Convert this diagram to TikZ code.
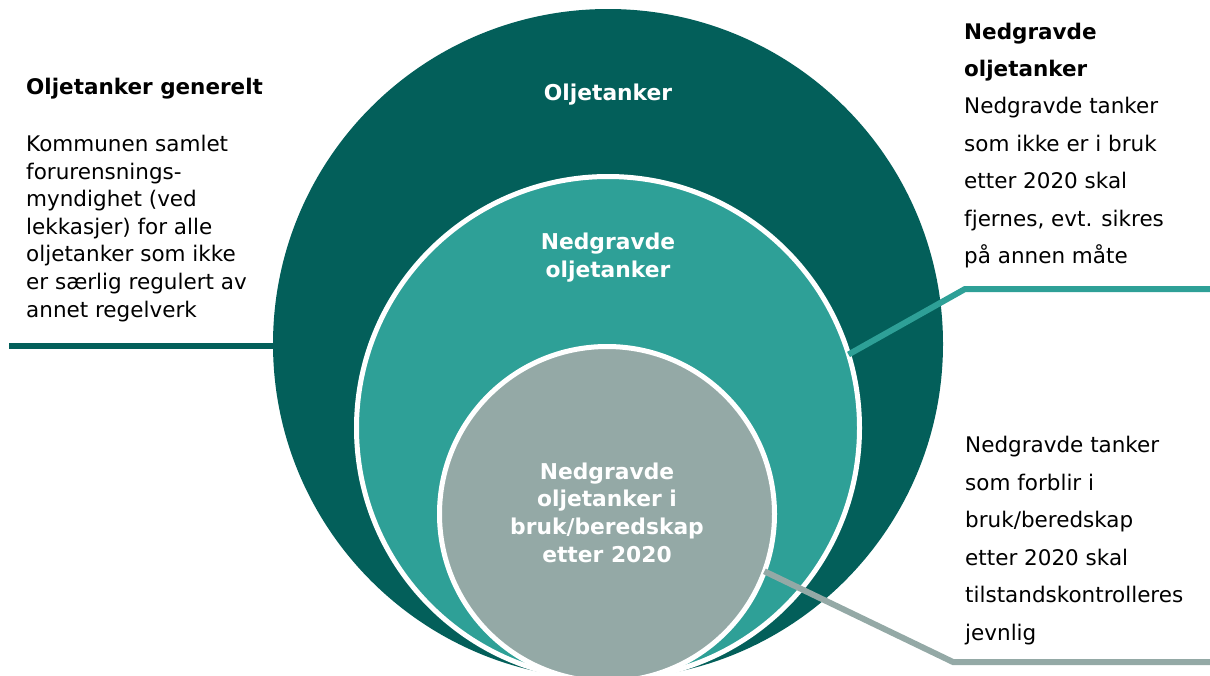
\documentclass[tikz,border=0pt]{standalone}
\usepackage{fontspec}
\setmainfont{DejaVu Sans}
\definecolor{darkteal}{RGB}{3,95,90}
\definecolor{midteal}{RGB}{46,160,151}
\definecolor{greyteal}{RGB}{148,169,166}
\tikzset{
  ring/.style={circle, inner sep=0pt, outer sep=0pt},
  ringlabel/.style={text=white, font=\fontsize{21.8}{27.6}\selectfont\bfseries, align=center, inner sep=0pt, anchor=base},
  sidetext/.style={text=black, align=left, inner sep=0pt, anchor=base west},
  connector/.style={line width=6pt, line join=miter, line cap=butt}
}
\begin{document}
\begin{tikzpicture}[x=1pt,y=-1pt]
\useasboundingbox (0,0) rectangle (1210,675);
\clip (0,0) rectangle (1210,675);
% circles
\node[ring, fill=darkteal, minimum size=670pt] (outer) at (608,344) {};
\node[ring, fill=midteal, draw=white, line width=5pt, minimum size=503pt] (mid) at (608,428) {};
\node[ring, fill=greyteal, draw=white, line width=5pt, minimum size=335pt] (inner) at (607,514) {};
% circle labels (anchor = baseline of the last line)
\node[ringlabel] (louter) at (608,100) {Oljetanker};
\node[ringlabel] (lmid) at (608,277) {Nedgravde\\oljetanker};
\node[ringlabel] (linner) at (607,562) {Nedgravde\\oljetanker i\\bruk/beredskap\\etter 2020};
% side texts (anchor = baseline of the last line)
\node[sidetext, font=\fontsize{21.5}{27.6}\selectfont] (tleft) at (26,317)
  {\textbf{Oljetanker generelt}\\[29.8pt]Kommunen samlet\\forurensnings-\\myndighet (ved\\lekkasjer) for alle\\oljetanker som ikke\\er særlig regulert av\\annet regelverk};
\node[sidetext, font=\fontsize{21.5}{37.4}\selectfont] (tright) at (964,263.4)
  {\textbf{Nedgravde}\\\textbf{oljetanker}\\Nedgravde tanker\\som ikke er i bruk\\etter 2020 skal\\fjernes, evt. sikres\\på annen måte};
\node[sidetext, font=\fontsize{21.5}{37.5}\selectfont] (tbottom) at (965,640.2)
  {Nedgravde tanker\\som forblir i\\bruk/beredskap\\etter 2020 skal\\tilstandskontrolleres\\jevnlig};
% connectors
\coordinate (lend) at (9,346);
\coordinate (tbend) at (965,289);
\coordinate (tend) at (1210,289);
\coordinate (gbend) at (953,662);
\coordinate (gend) at (1210,662);
\draw[connector, darkteal] (lend) -- (lend -| outer.west);
\draw[connector, midteal] (mid.17.5) -- (tbend) -- (tend);
\draw[connector, greyteal] (inner.-20.5) -- (gbend) -- (gend);
\end{tikzpicture}
\end{document}
